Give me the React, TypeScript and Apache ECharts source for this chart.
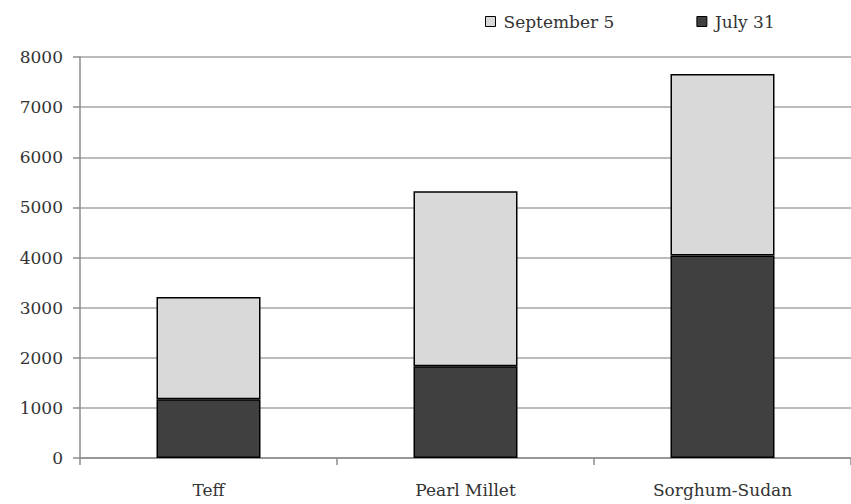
import React, { useEffect, useRef } from "react";
import * as echarts from "echarts";

const categories = ["Teff", "Pearl Millet", "Sorghum-Sudan"];
const july31 = [1170, 1830, 4040];
const sept5Increment = [2040, 3490, 3620];
const yTicks = { min: 0, max: 8000, interval: 1000 };

export default function App() {
  const ref = useRef<HTMLDivElement>(null);
  useEffect(() => {
    if (!ref.current) return;
    const chart = echarts.init(ref.current, undefined, { renderer: "svg" });
    const font = "DejaVu Serif";
    const textColor = "#333333";
    chart.setOption({
      animation: false,
      backgroundColor: "#ffffff",
      textStyle: { fontFamily: font },
      legend: {
        top: 8,
        left: 480,
        itemWidth: 10,
        itemHeight: 10,
        itemGap: 82,
        icon: "rect",
        data: [
          { name: "September 5", itemStyle: { color: "#d9d9d9", borderColor: "#000", borderWidth: 1 } },
          { name: "July 31", itemStyle: { color: "#404040", borderColor: "#000", borderWidth: 1 } },
        ],
        textStyle: { fontFamily: font, fontSize: 17, color: textColor, padding: [0, 0, 0, 3] },
      },
      grid: { left: 80, width: 777, top: 57, bottom: 46 },
      xAxis: {
        type: "category",
        data: categories,
        axisLine: { lineStyle: { color: "#8c8c8c", width: 1.5 } },
        axisTick: { show: true, length: 7, lineStyle: { color: "#8c8c8c", width: 1.5 } },
        axisLabel: { fontFamily: font, fontSize: 17, color: textColor, margin: 23 },
      },
      yAxis: {
        type: "value",
        min: yTicks.min,
        max: yTicks.max,
        interval: yTicks.interval,
        axisLine: { show: true, lineStyle: { color: "#8c8c8c", width: 1.5 } },
        axisTick: { show: true, length: 7, lineStyle: { color: "#8c8c8c", width: 1.5 } },
        splitLine: { lineStyle: { color: "#a6a6a6", width: 1.5 } },
        axisLabel: {
          fontFamily: font,
          fontSize: 17,
          color: textColor,
          margin: 17,
          formatter: (v: number) => String(v),
        },
      },
      series: [
        {
          name: "July 31",
          type: "bar",
          stack: "total",
          data: july31,
          barWidth: 104,
          itemStyle: { color: "#404040", borderColor: "#000", borderWidth: 1.5 },
        },
        {
          name: "September 5",
          type: "bar",
          stack: "total",
          data: sept5Increment,
          barWidth: 104,
          itemStyle: { color: "#d9d9d9", borderColor: "#000", borderWidth: 1.5 },
        },
      ],
    });
    return () => chart.dispose();
  }, []);
  return (
    <div
      ref={ref}
      style={{ position: "fixed", left: 0, top: 0, width: 851, height: 504 }}
    />
  );
}
